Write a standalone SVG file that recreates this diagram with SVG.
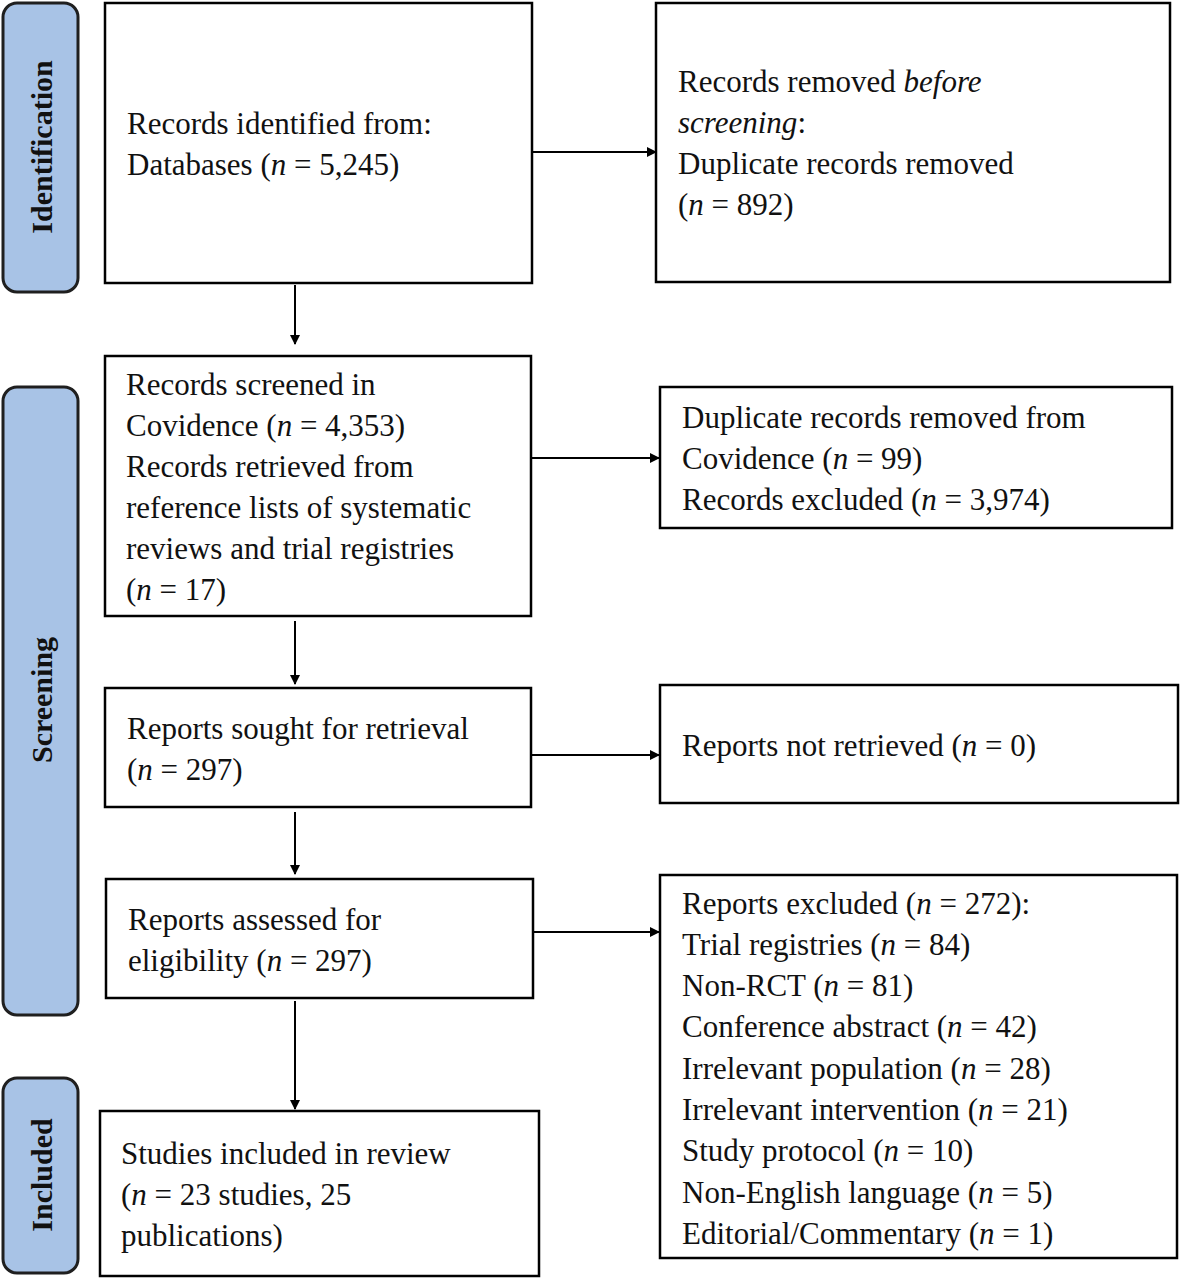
<svg xmlns="http://www.w3.org/2000/svg" width="1180" height="1279" viewBox="0 0 1180 1279">
<defs>
<style>
.b{fill:#fff;stroke:#000;stroke-width:2.5}
.s{fill:#a8c3e6;stroke:#1f1f1f;stroke-width:3}
text{font-family:"Liberation Serif",serif;font-size:31px;fill:#111}
.l{font-weight:bold;font-size:30px}
.c line{stroke:#000;stroke-width:2}
</style>
<marker id="a" markerWidth="10" markerHeight="10" refX="9" refY="5" orient="auto" markerUnits="userSpaceOnUse"><path d="M0,0 L10,5 L0,10 Z" fill="#000"/></marker>
</defs>
<rect width="1180" height="1279" fill="#fff"/>
<g id="sIdent"><rect class="s" x="3" y="3" width="75" height="289" rx="14"/><text class="l" transform="translate(52,147) rotate(-90)" text-anchor="middle">Identification</text></g>
<g id="sScreen"><rect class="s" x="3" y="387" width="75" height="628" rx="14"/><text class="l" transform="translate(52,700) rotate(-90)" text-anchor="middle">Screening</text></g>
<g id="sIncl"><rect class="s" x="3" y="1078" width="75" height="195" rx="14"/><text class="l" transform="translate(52,1175) rotate(-90)" text-anchor="middle">Included</text></g>
<g id="A"><rect class="b" x="105" y="3" width="427" height="280"/><text x="127" y="134">Records identified from:</text><text x="127" y="175">Databases (<tspan font-style="italic">n</tspan> = 5,245)</text></g>
<g id="B"><rect class="b" x="656" y="3" width="514" height="279"/><text x="678" y="92">Records removed <tspan font-style="italic">before</tspan></text><text x="678" y="133"><tspan font-style="italic">screening</tspan>:</text><text x="678" y="174">Duplicate records removed</text><text x="678" y="215">(<tspan font-style="italic">n</tspan> = 892)</text></g>
<g id="C"><rect class="b" x="105" y="356" width="426" height="260"/><text x="126" y="395">Records screened in</text><text x="126" y="436">Covidence (<tspan font-style="italic">n</tspan> = 4,353)</text><text x="126" y="477">Records retrieved from</text><text x="126" y="518">reference lists of systematic</text><text x="126" y="559">reviews and trial registries</text><text x="126" y="600">(<tspan font-style="italic">n</tspan> = 17)</text></g>
<g id="D"><rect class="b" x="660" y="387" width="512" height="141"/><text x="682" y="428">Duplicate records removed from</text><text x="682" y="469">Covidence (<tspan font-style="italic">n</tspan> = 99)</text><text x="682" y="510">Records excluded (<tspan font-style="italic">n</tspan> = 3,974)</text></g>
<g id="E"><rect class="b" x="105" y="688" width="426" height="119"/><text x="127" y="739">Reports sought for retrieval</text><text x="127" y="780">(<tspan font-style="italic">n</tspan> = 297)</text></g>
<g id="F"><rect class="b" x="660" y="685" width="518" height="118"/><text x="682" y="756">Reports not retrieved (<tspan font-style="italic">n</tspan> = 0)</text></g>
<g id="G"><rect class="b" x="106" y="879" width="427" height="119"/><text x="128" y="930">Reports assessed for</text><text x="128" y="971">eligibility (<tspan font-style="italic">n</tspan> = 297)</text></g>
<g id="H"><rect class="b" x="660" y="875" width="517" height="383"/>
<text x="682" y="914">Reports excluded (<tspan font-style="italic">n</tspan> = 272):</text>
<text x="682" y="955">Trial registries (<tspan font-style="italic">n</tspan> = 84)</text>
<text x="682" y="996">Non-RCT (<tspan font-style="italic">n</tspan> = 81)</text>
<text x="682" y="1037">Conference abstract (<tspan font-style="italic">n</tspan> = 42)</text>
<text x="682" y="1079">Irrelevant population (<tspan font-style="italic">n</tspan> = 28)</text>
<text x="682" y="1120">Irrelevant intervention (<tspan font-style="italic">n</tspan> = 21)</text>
<text x="682" y="1161">Study protocol (<tspan font-style="italic">n</tspan> = 10)</text>
<text x="682" y="1203">Non-English language (<tspan font-style="italic">n</tspan> = 5)</text>
<text x="682" y="1244">Editorial/Commentary (<tspan font-style="italic">n</tspan> = 1)</text></g>
<g id="I"><rect class="b" x="100" y="1111" width="439" height="165"/><text x="121" y="1164">Studies included in review</text><text x="121" y="1205">(<tspan font-style="italic">n</tspan> = 23 studies, 25</text><text x="121" y="1246">publications)</text></g>
<g class="c">
<line x1="533" y1="152" x2="656" y2="152" marker-end="url(#a)"/>
<line x1="295" y1="285" x2="295" y2="344" marker-end="url(#a)"/>
<line x1="532" y1="458" x2="659" y2="458" marker-end="url(#a)"/>
<line x1="295" y1="621" x2="295" y2="684" marker-end="url(#a)"/>
<line x1="532" y1="755" x2="659" y2="755" marker-end="url(#a)"/>
<line x1="295" y1="812" x2="295" y2="874" marker-end="url(#a)"/>
<line x1="534" y1="932" x2="659" y2="932" marker-end="url(#a)"/>
<line x1="295" y1="1001" x2="295" y2="1109" marker-end="url(#a)"/>
</g>
</svg>
